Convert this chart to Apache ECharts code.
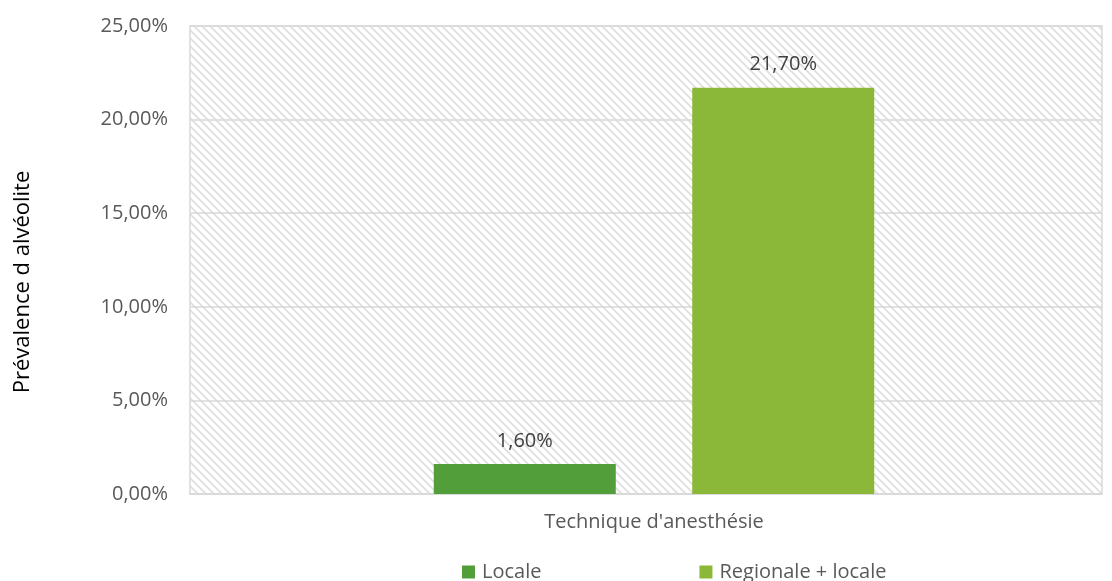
<!DOCTYPE html>
<html><head><meta charset="utf-8">
<script src="https://cdn.jsdelivr.net/npm/echarts@6/dist/echarts.min.js"></script>
<style>html,body{margin:0;padding:0;background:#fff}#c{width:1112px;height:581px}</style>
</head><body><div id="c"></div>
<script>
const categories = ["Technique d'anesthésie"];
const seriesNames = ["Locale", "Regionale + locale"];
const locale = [1.6];
const regionale = [21.7];
const yMin = 0, yMax = 25, yStep = 5;

const pat = document.createElement('canvas');
const n = 8;
pat.width = n; pat.height = n;
const ctx = pat.getContext('2d');
ctx.fillStyle = '#ffffff'; ctx.fillRect(0,0,n,n);
ctx.strokeStyle = '#dedede'; ctx.lineWidth = 1.6;
ctx.beginPath(); ctx.moveTo(-1,-1); ctx.lineTo(n+1,n+1);
ctx.moveTo(-1,n-1); ctx.lineTo(1,n+1);
ctx.moveTo(n-1,-1); ctx.lineTo(n+1,1);
ctx.stroke();

const fmt = v => v.toFixed(2).replace('.', ',') + '%';
const font = "'Open Sans', 'Noto Sans', sans-serif";
const chart = echarts.init(document.getElementById('c'));
chart.setOption({
  animation: false,
  textStyle: {fontFamily: font},
  grid: [
    {left: 190, width: 912, top: 26, bottom: 87, show: true,
     backgroundColor: {image: pat, repeat: 'repeat'}, borderColor: '#d9d9d9', borderWidth: 1.5},
    {left: 198, width: 912, top: 26, bottom: 87, show: false}
  ],
  legend: {left: 457, top: 557, itemWidth: 13, itemHeight: 13, itemGap: 158, icon: 'rect',
    textStyle: {fontSize: 20, color: '#595959', fontFamily: font, padding: [0,0,0,2]},
    data: seriesNames},
  graphic: [{type: 'text', x: 23, y: 282, rotation: Math.PI / 2,
    style: {text: 'Prévalence d alvéolite', fontSize: 22, fontFamily: font, fill: '#000',
      textAlign: 'center', textVerticalAlign: 'middle'}}],
  xAxis: [
    {type: 'category', gridIndex: 0, data: categories,
     axisLine: {lineStyle: {color: '#d9d9d9', width: 1.5}}, axisTick: {show: false},
     axisLabel: {show: false}},
    {type: 'category', gridIndex: 1, data: categories,
     axisLine: {show: false}, axisTick: {show: false},
     axisLabel: {fontSize: 20, color: '#595959', margin: 18}}
  ],
  yAxis: [
    {type: 'value', gridIndex: 0, min: yMin, max: yMax, interval: yStep,
     axisLine: {show: false}, axisTick: {show: false},
     splitLine: {lineStyle: {color: '#d9d9d9', width: 1.5}},
     axisLabel: {fontSize: 20, color: '#595959', margin: 22, formatter: v => fmt(v)}},
    {type: 'value', gridIndex: 1, min: yMin, max: yMax, interval: yStep, show: false}
  ],
  series: [
    {name: seriesNames[0], type: 'bar', xAxisIndex: 1, yAxisIndex: 1, data: locale, barWidth: 182, barGap: '42%',
     itemStyle: {color: '#529e3a'},
     label: {show: true, position: 'top', distance: 13, fontSize: 20, color: '#404040', formatter: p => fmt(p.value)}},
    {name: seriesNames[1], type: 'bar', xAxisIndex: 1, yAxisIndex: 1, data: regionale, barWidth: 182,
     itemStyle: {color: '#8bb838'},
     label: {show: true, position: 'top', distance: 13, fontSize: 20, color: '#404040', formatter: p => fmt(p.value)}}
  ]
});
</script></body></html>
